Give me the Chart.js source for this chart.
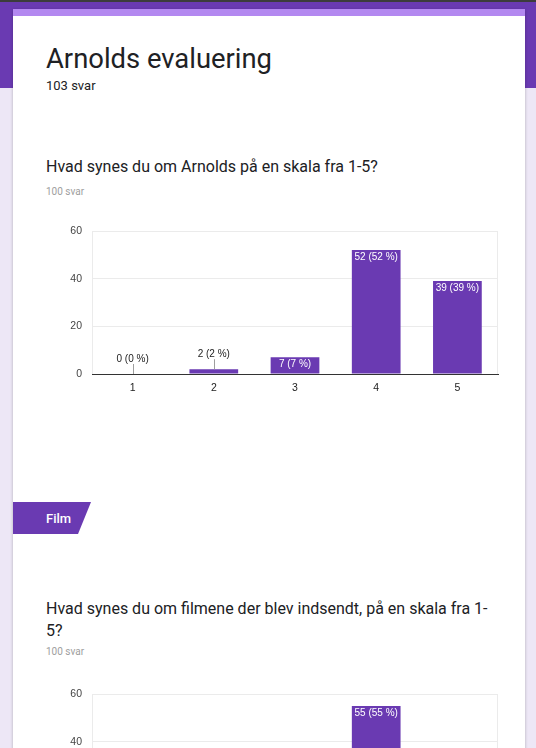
<!DOCTYPE html>
<html>
<head>
<meta charset="utf-8">
<script src="https://cdn.jsdelivr.net/npm/chart.js@4.4.1/dist/chart.umd.min.js"></script>
<style>
  html, body { margin:0; padding:0; }
  body { width:536px; height:748px; overflow:hidden; position:relative; background:#ede7f6; font-family:Roboto, "Noto Sans", sans-serif; }
  .band { position:absolute; left:0; top:0; width:536px; height:88px; background:#6a3ab2; border-top:2px solid #3c3c3c; box-sizing:border-box; }
  .card { position:absolute; left:13px; top:9px; width:512px; height:800px; background:#fff; box-shadow:0 1px 3px rgba(0,0,0,0.25); }
  .stripe { position:absolute; left:0; top:0; width:100%; height:7px; background:#b388f0; }
  .t { position:absolute; white-space:nowrap; }
  .film { position:absolute; left:13px; top:502px; width:78px; height:32px; background:#6a3ab2; clip-path:polygon(0 0, 78px 0, 65px 32px, 0 32px); }
  canvas { position:absolute; }
</style>
</head>
<body>
<div class="band"></div>
<div class="card"><div class="stripe"></div></div>

<div class="t" style="left:46px; top:45.5px; font-size:27.4px; line-height:27.4px; color:#202124;">Arnolds evaluering</div>
<div class="t" style="left:46px; top:78.5px; font-size:13px; line-height:13px; color:#202124;">103 svar</div>

<div class="t" style="left:46px; top:159px; font-size:16px; line-height:16px; color:#202124;">Hvad synes du om Arnolds på en skala fra 1-5?</div>
<div class="t" style="left:46px; top:186.5px; font-size:10px; line-height:10px; color:#9e9e9e;">100 svar</div>

<canvas id="c1" width="462" height="180" style="left:46px; top:220px;"></canvas>

<div class="film"></div>
<div class="t" style="left:46px; top:511.5px; font-size:13px; line-height:13px; color:#fff; font-weight:500;">Film</div>

<div class="t" style="left:46px; top:597.5px; font-size:16px; line-height:22px; color:#202124;">Hvad synes du om filmene der blev indsendt, på en skala fra 1-<br>5?</div>
<div class="t" style="left:46px; top:647px; font-size:10px; line-height:10px; color:#9e9e9e;">100 svar</div>

<canvas id="c2" width="462" height="180" style="left:46px; top:683px;"></canvas>

<script>
// ---- data ----
const categories = ["1", "2", "3", "4", "5"];
const arnoldsValues = [0, 2, 7, 52, 39];
const filmValues = [0, 3, 17, 55, 25];
const yTicks = [0, 20, 40, 60];
const totalResponses = 100;

const BAR = "#6a3ab2";
Chart.defaults.font.family = "'Liberation Sans', Arial, sans-serif";

const framePlugin = {
  id: "frame",
  beforeDatasetsDraw(chart) {
    const { ctx, chartArea: a } = chart;
    ctx.save();
    ctx.strokeStyle = "#ebebeb";
    ctx.lineWidth = 1;
    ctx.beginPath();
    ctx.moveTo(Math.round(a.left) + 0.5, a.top);
    ctx.lineTo(Math.round(a.left) + 0.5, a.bottom);
    ctx.moveTo(Math.round(a.right) - 0.5, a.top);
    ctx.lineTo(Math.round(a.right) - 0.5, a.bottom);
    ctx.stroke();
    ctx.restore();
  }
};

const labelPlugin = {
  id: "barLabels",
  afterDatasetsDraw(chart) {
    const { ctx } = chart;
    const ds = chart.data.datasets[0];
    const meta = chart.getDatasetMeta(0);
    ctx.save();
    ctx.font = "10px 'Liberation Sans', Arial, sans-serif";
    ctx.textAlign = "center";
    ctx.textBaseline = "middle";
    meta.data.forEach((bar, i) => {
      const v = ds.data[i];
      const pct = Math.round(v / totalResponses * 100);
      const txt = v + " (" + pct + " %)";
      const h = bar.base - bar.y;
      if (h >= 12) {
        ctx.fillStyle = "#ffffff";
        ctx.fillText(txt, bar.x, bar.y + 7);
      } else {
        ctx.strokeStyle = "#9e9e9e";
        ctx.lineWidth = 1;
        ctx.beginPath();
        ctx.moveTo(Math.round(bar.x) + 0.5, bar.y);
        ctx.lineTo(Math.round(bar.x) + 0.5, bar.y - 10);
        ctx.stroke();
        ctx.fillStyle = "#222222";
        ctx.fillText(txt, bar.x, bar.y - 15);
      }
    });
    ctx.restore();
  }
};

function makeChart(id, values) {
  return new Chart(document.getElementById(id), {
    type: "bar",
    data: {
      labels: categories,
      datasets: [{
        data: values,
        backgroundColor: BAR,
        borderWidth: 0,
        categoryPercentage: 1,
        barPercentage: 0.6
      }]
    },
    options: {
      responsive: false,
      animation: false,
      devicePixelRatio: 1,
      layout: { padding: { top: 11, right: 10, left: 0, bottom: 0 } },
      plugins: { legend: { display: false }, tooltip: { enabled: false } },
      scales: {
        x: {
          grid: { display: false, drawTicks: false },
          border: { display: true, color: "#333333", width: 1 },
          ticks: { color: "#222222", font: { size: 10.5 }, padding: 8 },
          afterFit(s) { s.height = 26; }
        },
        y: {
          min: 0, max: 60,
          afterBuildTicks(s) { s.ticks = yTicks.map(v => ({ value: v })); },
          grid: { color: "#ebebeb", drawTicks: false },
          border: { display: false },
          ticks: { color: "#444444", font: { size: 10.5 }, padding: 10 },
          afterFit(s) { s.width = 46; s.paddingTop = 0; s.paddingBottom = 0; }
        }
      }
    },
    plugins: [framePlugin, labelPlugin]
  });
}

makeChart("c1", arnoldsValues);
makeChart("c2", filmValues);
</script>
</body>
</html>
